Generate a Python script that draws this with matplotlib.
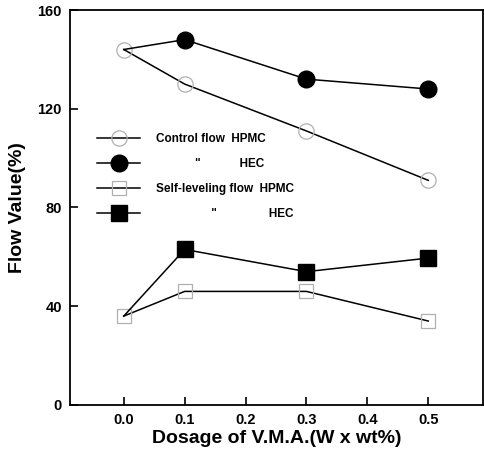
import matplotlib
matplotlib.use('Agg')
import matplotlib.pyplot as plt
from matplotlib.lines import Line2D

plt.rcParams['font.family'] = ['Liberation Sans', 'DejaVu Sans']
plt.rcParams['font.weight'] = 'bold'

dosage = [0.0, 0.1, 0.3, 0.5]
ctrl_hpmc = [144, 130, 111, 91]
ctrl_hec = [144, 148, 132, 128]
self_hpmc = [36, 46, 46, 34]
self_hec = [36, 63, 54, 59.5]

labels = ['Control flow  HPMC',
          '            "            HEC',
          'Self-leveling flow  HPMC',
          '                 "                HEC']

fig = plt.figure(figsize=(4.84, 4.55), dpi=100)
ax = fig.add_axes([0.145, 0.11, 0.853, 0.868])

faint = '#b0b0b0'
styles = [dict(marker='o', ms=11, mfc='none', mec=faint, mew=0.9),
          dict(marker='o', ms=12, mfc='black', mec='black'),
          dict(marker='s', ms=10, mfc='none', mec=faint, mew=0.9),
          dict(marker='s', ms=11, mfc='black', mec='black')]

ax.plot(dosage, ctrl_hpmc, color='black', lw=1.1, **styles[0])
ax.plot(dosage, ctrl_hec, color='black', lw=1.1, markevery=[1, 2, 3], **styles[1])
ax.plot(dosage, self_hpmc, color='black', lw=1.1, **styles[2])
ax.plot(dosage, self_hec, color='black', lw=1.1, markevery=[1, 2, 3], **styles[3])

ax.set_xlim(-0.088, 0.59)
ax.set_ylim(0, 160)
ax.set_xticks([0.0, 0.1, 0.2, 0.3, 0.4, 0.5])
ax.set_xticklabels(['0.0', '0.1', '0.2', '0.3', '0.4', '0.5'])
ax.set_yticks([0, 40, 80, 120, 160])
ax.tick_params(direction='in', length=6, width=1.2, labelsize=10.5, pad=6)
for s in ax.spines.values():
    s.set_linewidth(1.3)

ax.set_xlabel('Dosage of V.M.A.(W x wt%)', fontsize=14, fontweight='bold', labelpad=2)
ax.set_ylabel('Flow Value(%)', fontsize=14, fontweight='bold', labelpad=8)

handles = [Line2D([], [], color='black', lw=1.1, **st) for st in styles]
ax.legend(handles, labels, loc='upper left', bbox_to_anchor=(0.04, 0.715), frameon=False,
          fontsize=8.5, handlelength=3.6, labelspacing=1.1, handletextpad=1.4)

fig.savefig('out.png', dpi=100)
